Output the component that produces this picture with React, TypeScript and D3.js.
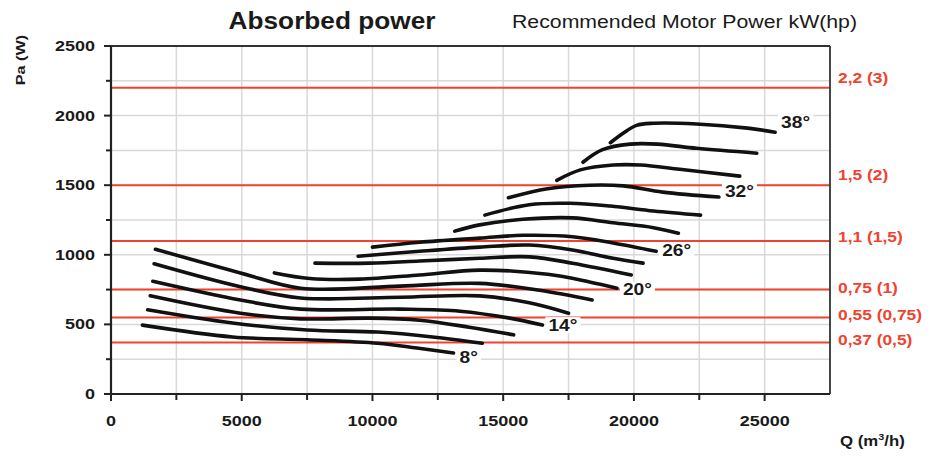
import React from 'react';
import * as d3 from 'd3';

// blade angle of each curve
const angles = [8, 10, 12, 14, 16, 18, 20, 22, 24, 26, 28, 30, 32, 34, 36, 38];

// [Q m3/h, absorbed power W]
const curve8 = [[1200, 495], [4650, 410], [7500, 390], [10200, 365], [11700, 330], [13100, 295]];
const curve10 = [[1400, 605], [4650, 510], [7500, 460], [10200, 445], [12300, 410], [14200, 365]];
const curve12 = [[1500, 705], [4950, 580], [7250, 540], [9900, 545], [11800, 530], [13700, 480], [15400, 425]];
const curve14 = [[1600, 810], [4950, 675], [7250, 610], [11050, 610], [13350, 595], [15250, 545], [16500, 495]];
const curve16 = [[1650, 935], [4950, 770], [7250, 690], [11050, 695], [14100, 705], [16000, 655], [17500, 580]];
const curve18 = [[1700, 1040], [4950, 870], [7250, 760], [11050, 775], [14100, 795], [16400, 745], [18400, 675]];
const curve20 = [[6250, 870], [7600, 830], [9500, 825], [11800, 855], [14100, 890], [16700, 860], [18300, 805], [19350, 760]];
const curve22 = [[7800, 940], [9900, 940], [11800, 955], [14100, 975], [16000, 985], [17650, 940], [19900, 855]];
const curve24 = [[9450, 990], [11800, 1025], [14100, 1055], [16000, 1070], [17650, 1035], [19200, 975], [20350, 940]];
const curve26 = [[10000, 1055], [11800, 1090], [14100, 1120], [15750, 1140], [17650, 1130], [19200, 1085], [20850, 1025]];
const curve28 = [[13150, 1170], [14100, 1215], [15750, 1255], [17650, 1265], [19200, 1230], [20750, 1195], [21700, 1155]];
const curve30 = [[14300, 1285], [16000, 1360], [17550, 1370], [19100, 1350], [20750, 1315], [22550, 1285]];
const curve32 = [[15200, 1410], [16700, 1475], [18300, 1500], [19600, 1495], [21100, 1450], [23250, 1415]];
const curve34 = [[17050, 1535], [17950, 1610], [19200, 1645], [20250, 1645], [21750, 1615], [24050, 1565]];
const curve36 = [[18050, 1665], [18800, 1755], [19850, 1795], [20900, 1795], [22400, 1765], [24700, 1730]];
const curve38 = [[19100, 1805], [19600, 1875], [20100, 1930], [20750, 1945], [22400, 1940], [24350, 1910], [25400, 1880]];

const curves = [curve8, curve10, curve12, curve14, curve16, curve18, curve20, curve22,
  curve24, curve26, curve28, curve30, curve32, curve34, curve36, curve38];

const labelledAngles = [8, 14, 20, 26, 32, 38];

// recommended motor power lines
const motorPowerW = [2200, 1500, 1100, 750, 550, 370];
const motorLabels = ['2,2 (3)', '1,5 (2)', '1,1 (1,5)', '0,75 (1)', '0,55 (0,75)', '0,37 (0,5)'];

const qTicks = [0, 5000, 10000, 15000, 20000, 25000];
const qMinorTicks = [2500, 7500, 12500, 17500, 22500];
const pTicks = [0, 500, 1000, 1500, 2000, 2500];
const pMinorTicks = [250, 750, 1250, 1750, 2250];

const FONT = '"Liberation Sans", Arial, Helvetica, sans-serif';
const RED = '#f0432f';
const STRETCH = 1.2; // the source type is set wide

// small vertical nudges so labels sit like the original
const degreeNudge = [4.5, 0, 1.5, -1, -5.5, -9.5];
const motorNudge = [-10, -10, -4, -2, -2, -2];

type TProps = {
  x: number; y: number; size: number; bold?: boolean; fill?: string; stretch?: number;
  anchor?: 'start' | 'middle' | 'end'; rotate?: number; children: React.ReactNode;
};

const T: React.FC<TProps> = ({ x, y, size, bold = true, fill = '#1a1a1a', anchor = 'start', rotate = 0, stretch = STRETCH, children }) => (
  <text
    transform={`translate(${x},${y}) rotate(${rotate}) scale(${stretch},1)`}
    fontFamily={FONT}
    fontSize={size}
    fontWeight={bold ? 700 : 400}
    fill={fill}
    textAnchor={anchor}
    dominantBaseline="central"
  >
    {children}
  </text>
);

const App: React.FC = () => {
  const width = 935;
  const height = 457;

  const x = d3.scaleLinear().domain([0, 27500]).range([111, 830]);
  const y = d3.scaleLinear().domain([0, 2500]).range([394, 46]);
  const [x0, x1] = x.range();
  const [y0, y1] = y.range();

  const line = d3.line<number[]>()
    .x(d => x(d[0]))
    .y(d => y(d[1]))
    .curve(d3.curveCatmullRom.alpha(0.5));

  const gridQ = [...qMinorTicks, ...qTicks.filter(v => v > 0)];
  const gridP = [...pMinorTicks, ...pTicks.filter(v => v > 0 && v < 2500)];

  const degreeSize = 16;

  return (
    <svg width={width} height={height} style={{ position: 'absolute', left: 0, top: 0, background: '#fff' }}>
      <rect width={width} height={height} fill="#fff" />

      {/* grid */}
      {gridQ.map(v => (
        <line key={'gq' + v} x1={x(v)} x2={x(v)} y1={y1} y2={y0} stroke="#d9d9d9" strokeWidth={1.5} />
      ))}
      {gridP.map(v => (
        <line key={'gp' + v} x1={x0} x2={x1} y1={y(v)} y2={y(v)} stroke="#d9d9d9" strokeWidth={1.5} />
      ))}

      {/* motor power lines */}
      {motorPowerW.map((w, i) => (
        <g key={'m' + w}>
          <line x1={x0} x2={x1} y1={y(w)} y2={y(w)} stroke={RED} strokeWidth={2} />
          <T x={x1 + 8} y={y(w) + motorNudge[i]} size={14.5} fill={RED}>{motorLabels[i]}</T>
        </g>
      ))}

      {/* frame */}
      <line x1={x0} x2={x1} y1={y1} y2={y1} stroke="#333" strokeWidth={1.8} />
      <line x1={x1} x2={x1} y1={y1} y2={y0} stroke="#333" strokeWidth={1.8} />
      <line x1={x0} x2={x0} y1={y1} y2={y0} stroke="#222" strokeWidth={2.2} />
      <line x1={x0} x2={x1} y1={y0} y2={y0} stroke="#222" strokeWidth={2.2} />

      {/* y ticks */}
      {pTicks.map(v => (
        <g key={'pt' + v}>
          <line x1={x0 - 7} x2={x0} y1={y(v)} y2={y(v)} stroke="#222" strokeWidth={2} />
          <T x={95} y={y(v)} size={15} anchor="end">{v}</T>
        </g>
      ))}
      {pMinorTicks.map(v => (
        <line key={'pm' + v} x1={x0 - 5} x2={x0} y1={y(v)} y2={y(v)} stroke="#222" strokeWidth={2} />
      ))}

      {/* x ticks */}
      {qTicks.map(v => (
        <g key={'qt' + v}>
          <line x1={x(v)} x2={x(v)} y1={y0} y2={y0 + 7} stroke="#222" strokeWidth={2} />
          <T x={x(v)} y={421} size={15} anchor="middle">{v}</T>
        </g>
      ))}
      {qMinorTicks.map(v => (
        <line key={'qm' + v} x1={x(v)} x2={x(v)} y1={y0} y2={y0 + 6} stroke="#222" strokeWidth={2} />
      ))}

      {/* white boxes behind angle labels */}
      {labelledAngles.map((a, i) => {
        const c = curves[angles.indexOf(a)];
        const end = c[c.length - 1];
        const w = (String(a).length * 0.556 + 0.4) * degreeSize * STRETCH;
        return (
          <rect key={'bg' + a} x={x(end[0]) + 3} y={y(end[1]) + degreeNudge[i] - 8}
            width={w + 6} height={16} fill="#fff" />
        );
      })}

      {/* curves */}
      {curves.map((c, i) => (
        <path key={'c' + angles[i]} d={line(c) || ''} fill="none" stroke="#111"
          strokeWidth={3.6} strokeLinecap="round" strokeLinejoin="round" />
      ))}

      {/* angle labels */}
      {labelledAngles.map((a, i) => {
        const c = curves[angles.indexOf(a)];
        const end = c[c.length - 1];
        return (
          <T key={'l' + a} x={x(end[0]) + 6} y={y(end[1]) + degreeNudge[i]} size={degreeSize}>
            {a + '°'}
          </T>
        );
      })}

      {/* titles */}
      <T x={332} y={21} size={23} stretch={1.14} anchor="middle">Absorbed power</T>
      <T x={512} y={22} size={18.5} stretch={1.15} bold={false}>Recommended Motor Power kW(hp)</T>
      <T x={20} y={60} size={13.5} rotate={-90} anchor="middle">Pa (W)</T>
      <text transform={`translate(840,441) scale(${STRETCH},1)`} fontFamily={FONT} fontSize={14}
        fontWeight={700} fill="#1a1a1a" dominantBaseline="central">
        Q (m<tspan fontSize={9} dy={-5}>3</tspan><tspan dy={5}>/h)</tspan>
      </text>
    </svg>
  );
};

export default App;
